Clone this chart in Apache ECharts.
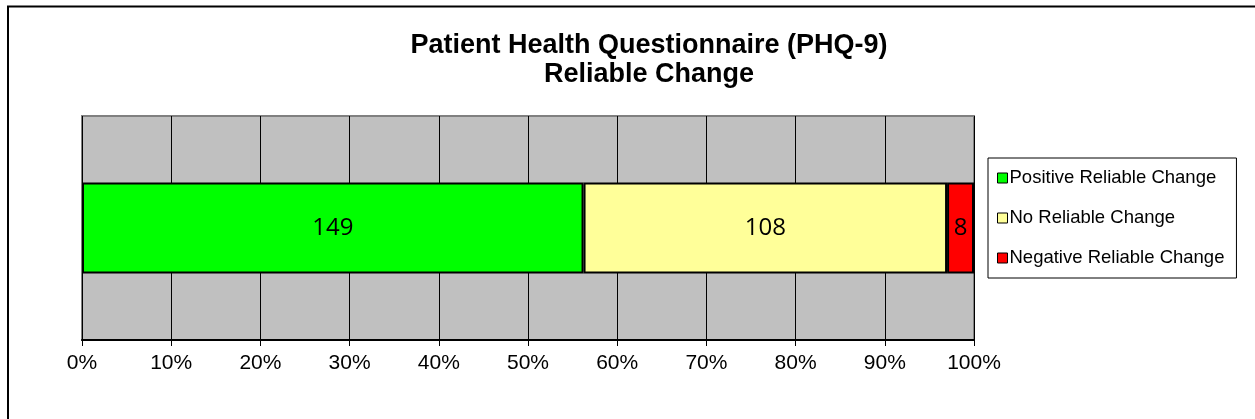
<!DOCTYPE html>
<html>
<head>
<meta charset="utf-8">
<script src="https://cdn.jsdelivr.net/npm/echarts@6/dist/echarts.min.js"></script>
<style>
html,body{margin:0;padding:0;background:#fff;}
#c{width:1255px;height:419px;}
</style>
</head>
<body>
<div id="c"></div>
<script>
const categories = ['PHQ-9'];
const seriesNames = ['Positive Reliable Change', 'No Reliable Change', 'Negative Reliable Change'];
const positiveCounts = [149];
const noChangeCounts = [108];
const negativeCounts = [8];
const seriesColors = ['#00ff00', '#ffff99', '#ff0000'];
const xTickValues = [0, 10, 20, 30, 40, 50, 60, 70, 80, 90, 100];

const counts = [positiveCounts, noChangeCounts, negativeCounts];
const totals = categories.map((_, i) => counts.reduce((s, arr) => s + arr[i], 0));

const FONT = '"Liberation Sans", Arial, sans-serif';
const chart = echarts.init(document.getElementById('c'), null, {renderer: 'canvas'});
chart.setOption({
  backgroundColor: '#fff',
  animation: false,
  title: {
    text: 'Patient Health Questionnaire (PHQ-9)\nReliable Change',
    left: 644, top: 26, textAlign: 'center',
    textStyle: {fontFamily: FONT, fontSize: 27, fontWeight: 'bold', color: '#000', lineHeight: 29}
  },
  graphic: [{
    type: 'rect', silent: true,
    shape: {x: 8, y: 6.5, width: 1300, height: 500},
    style: {fill: null, stroke: '#000', lineWidth: 2}
  }],
  legend: {
    orient: 'vertical',
    left: 988, top: 158,
    padding: [9, 12, 9, 9],
    itemGap: 18,
    itemWidth: 10, itemHeight: 10,
    icon: 'rect',
    borderColor: '#000', borderWidth: 1,
    backgroundColor: '#fff',
    textStyle: {fontFamily: FONT, fontSize: 18.5, color: '#000', padding: [0, 0, 0, -3], lineHeight: 22},
    data: seriesNames.map((n, i) => ({name: n, itemStyle: {color: seriesColors[i], borderColor: '#000', borderWidth: 1}}))
  },
  grid: {
    left: 82, right: 281, top: 116, bottom: 79,
    show: true, backgroundColor: '#c0c0c0', borderColor: '#808080', borderWidth: 2
  },
  xAxis: {
    type: 'value', min: 0, max: 100, interval: 10,
    axisLine: {show: true, lineStyle: {color: '#000', width: 2}},
    axisTick: {show: true, length: 6, lineStyle: {color: '#000', width: 1}},
    splitLine: {show: true, lineStyle: {color: '#000', width: 1}},
    axisLabel: {
      fontFamily: FONT, fontSize: 21, color: '#000', margin: 13,
      formatter: v => xTickValues.includes(v) ? v + '%' : ''
    }
  },
  yAxis: {
    type: 'category', data: categories,
    axisLine: {show: false}, axisTick: {show: false}, axisLabel: {show: false},
    splitLine: {show: false}
  },
  series: counts.map((arr, si) => ({
    name: seriesNames[si],
    type: 'bar', stack: 'total', barWidth: 91,
    itemStyle: {color: seriesColors[si], borderColor: '#000', borderWidth: 2},
    label: {
      show: true, position: 'inside',
      fontFamily: '"Open Sans", "Liberation Sans", sans-serif', fontSize: 24, color: '#000',
      formatter: p => String(arr[p.dataIndex])
    },
    data: arr.map((v, i) => v / totals[i] * 100)
  }))
});
</script>
</body>
</html>
